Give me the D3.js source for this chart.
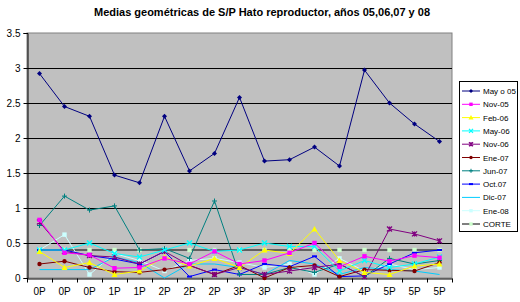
<!DOCTYPE html>
<html>
<head>
<meta charset="utf-8">
<script src="https://cdn.jsdelivr.net/npm/d3@7"></script>
<style>
  body { margin: 0; background: #fff; }
  text { font-family: "Liberation Sans", Arial, sans-serif; }
</style>
</head>
<body>
<div id="chart"></div>
<script>
'use strict';

// categories on the x axis
var categories = ['0P','0P','0P','1P','1P','2P','2P','2P','3P','3P','3P','4P','4P','4P','5P','5P','5P'];
var yTicks = [0, 0.5, 1, 1.5, 2, 2.5, 3, 3.5];

// series values
var mayo05 = [2.92,2.45,2.31,1.47,1.36,2.31,1.53,1.78,2.58,1.67,1.69,1.87,1.6,2.97,2.5,2.2,1.95];
var nov05  = [0.83,0.36,0.33,0.14,0.15,0.28,0.2,0.38,0.2,0.25,0.36,0.5,0.16,0.31,0.24,0.32,0.29];
var feb06  = [0.38,0.15,0.22,0.05,0.1,0.3,0.17,0.28,0.15,0.4,0.35,0.7,0.25,0.08,0.05,0.17,0.2];
var may06  = [0.4,0.4,0.5,0.35,0.3,0.4,0.5,0.38,0.4,0.5,0.45,0.45,0.1,0.25,0.15,0.2,0.3];
var nov06  = [0.8,0.38,0.32,0.3,0.2,0.38,0.18,0.05,0.15,0.05,0.1,0.15,0.2,0.02,0.7,0.63,0.53];
var ene07  = [0.2,0.24,0.15,0.09,0.08,0.12,0.18,0.05,0.18,0.0,0.15,0.18,0.02,0.12,0.11,0.1,0.22];
var jun07  = [0.75,1.17,0.97,1.03,0.4,0.42,0.28,1.1,0.05,0.05,0.15,0.08,0.2,0.02,0.28,0.2,0.25];
var oct07  = [0.4,0.4,0.32,0.27,0.2,0.38,0.02,0.12,0.05,0.2,0.16,0.31,0.02,0.03,0.2,0.36,0.4];
var dic07  = [0.12,0.12,0.12,0.3,0.22,0.0,0.2,0.2,0.15,0.05,0.25,0.2,0.05,0.15,0.12,0.1,0.05];
var ene08  = [0.4,0.62,0.05,0.35,0.25,0.1,0.25,0.28,0.22,0.15,0.2,0.05,0.28,0.1,0.2,0.12,0.15];
var corte  = [0.4,0.4,0.4,0.4,0.4,0.4,0.4,0.4,0.4,0.4,0.4,0.4,0.4,0.4,0.4,0.4,0.4];

var seriesNames = ['May o 05','Nov-05','Feb-06','May-06','Nov-06','Ene-07','Jun-07','Oct.07','Dic-07','Ene-08','CORTE'];
var seriesValues = [mayo05, nov05, feb06, may06, nov06, ene07, jun07, oct07, dic07, ene08, corte];

// styling per series
var lineColors = ['#000080','#FF00FF','#FFFF00','#00FFFF','#800080','#800000','#008080','#0000FF','#00CCFF','#CCFFFF','#000000'];
var markColors = ['#000080','#FF00FF','#FFFF00','#00FFFF','#800080','#800000','#008080','#0000FF',null,'#CCFFFF','#CCFFCC'];
var markTypes  = ['diamond','square','triangle','cross','star','circle','plus','dash','none','square','square'];

var W = 520, H = 302;
var plot = {left: 27, right: 452, top: 33, bottom: 278};

var svg = d3.select('#chart').append('svg')
    .attr('width', W).attr('height', H);

var x = d3.scaleBand()
    .domain(d3.range(categories.length))
    .range([plot.left, plot.right]);
var y = d3.scaleLinear()
    .domain([0, 3.5])
    .range([plot.bottom, plot.top]);

// plot area
svg.append('rect')
    .attr('x', plot.left).attr('y', plot.top)
    .attr('width', plot.right - plot.left).attr('height', plot.bottom - plot.top)
    .attr('fill', '#C0C0C0').attr('stroke', '#808080').attr('stroke-width', 1);

// gridlines
svg.append('g').selectAll('line')
    .data(yTicks.filter(function(d){ return d > 0 && d < 3.5; }))
  .enter().append('line')
    .attr('x1', plot.left).attr('x2', plot.right)
    .attr('y1', function(d){ return Math.round(y(d)) + 0.5; })
    .attr('y2', function(d){ return Math.round(y(d)) + 0.5; })
    .attr('stroke', '#000').attr('stroke-width', 1);

// y axis
var yAxis = svg.append('g')
    .attr('transform', 'translate(' + (plot.left + 0.5) + ',0)')
    .call(d3.axisLeft(y).tickValues(yTicks).tickSize(4).tickPadding(3)
        .tickFormat(function(d){ return String(d); }));
yAxis.select('.domain').attr('stroke', '#000');
yAxis.selectAll('text').attr('font-size', '10px').attr('fill', '#000')
    .style('font-family', '"Liberation Sans", Arial, sans-serif');

// x axis
var xAxis = svg.append('g')
    .attr('transform', 'translate(0,' + (plot.bottom + 0.5) + ')')
    .call(d3.axisBottom(x).tickSize(0).tickPadding(9)
        .tickFormat(function(d){ return categories[d]; }));
xAxis.select('.domain').attr('stroke', '#000');
xAxis.selectAll('text').attr('font-size', '10px').attr('fill', '#000')
    .style('font-family', '"Liberation Sans", Arial, sans-serif');
// category tick marks between bands
xAxis.selectAll('.sep')
    .data(d3.range(categories.length + 1))
  .enter().append('line')
    .attr('class', 'sep')
    .attr('x1', function(d){ return Math.round(plot.left + d * x.step()) + 0.5; })
    .attr('x2', function(d){ return Math.round(plot.left + d * x.step()) + 0.5; })
    .attr('y1', 0).attr('y2', 4)
    .attr('stroke', '#000');

function marker(g, type, fill, cx, cy, k) {
  k = k || 1;
  var r = 2.5 * k;
  if (type === 'none') return;
  if (type === 'diamond') {
    g.append('path').attr('d', 'M' + cx + ',' + (cy - r) + 'L' + (cx + r) + ',' + cy + 'L' + cx + ',' + (cy + r) + 'L' + (cx - r) + ',' + cy + 'Z')
      .attr('fill', fill);
  } else if (type === 'square') {
    g.append('rect').attr('x', cx - r + 0.3).attr('y', cy - r + 0.3).attr('width', 2 * r - 0.6).attr('height', 2 * r - 0.6)
      .attr('fill', fill);
  } else if (type === 'triangle') {
    g.append('path').attr('d', 'M' + cx + ',' + (cy - r - 0.5) + 'L' + (cx + r + 0.5) + ',' + (cy + r) + 'L' + (cx - r - 0.5) + ',' + (cy + r) + 'Z')
      .attr('fill', fill);
  } else if (type === 'cross') {
    g.append('path').attr('d', 'M' + (cx - r) + ',' + (cy - r) + 'L' + (cx + r) + ',' + (cy + r) + 'M' + (cx + r) + ',' + (cy - r) + 'L' + (cx - r) + ',' + (cy + r))
      .attr('stroke', fill).attr('stroke-width', 1.3);
  } else if (type === 'star') {
    g.append('path').attr('d', 'M' + (cx - r) + ',' + (cy - r) + 'L' + (cx + r) + ',' + (cy + r) + 'M' + (cx + r) + ',' + (cy - r) + 'L' + (cx - r) + ',' + (cy + r) + 'M' + cx + ',' + (cy - r) + 'L' + cx + ',' + (cy + r))
      .attr('stroke', fill).attr('stroke-width', 1.3);
  } else if (type === 'circle') {
    g.append('circle').attr('cx', cx).attr('cy', cy).attr('r', r - 0.3).attr('fill', fill);
  } else if (type === 'plus') {
    g.append('path').attr('d', 'M' + (cx - r) + ',' + cy + 'L' + (cx + r) + ',' + cy + 'M' + cx + ',' + (cy - r) + 'L' + cx + ',' + (cy + r))
      .attr('stroke', fill).attr('stroke-width', 1);
  } else if (type === 'dash') {
    g.append('path').attr('d', 'M' + (cx - r) + ',' + cy + 'L' + (cx + r) + ',' + cy)
      .attr('stroke', fill).attr('stroke-width', 2);
  }
}

var line = d3.line()
    .x(function(d, i){ return x(i) + x.bandwidth() / 2; })
    .y(function(d){ return y(d); });

// draw series, last legend entry first so Mayo 05 ends on top
var order = [10, 9, 8, 7, 6, 5, 4, 3, 2, 1, 0];
order.forEach(function(s) {
  var g = svg.append('g');
  g.append('path')
    .datum(seriesValues[s])
    .attr('d', line)
    .attr('fill', 'none')
    .attr('stroke', lineColors[s])
    .attr('stroke-width', 1);
  seriesValues[s].forEach(function(v, i) {
    marker(g, markTypes[s], markColors[s], x(i) + x.bandwidth() / 2, y(v), 1);
  });
});

// title
svg.append('text')
    .attr('x', 262).attr('y', 16)
    .attr('text-anchor', 'middle')
    .attr('font-size', '11px').attr('font-weight', 'bold')
    .text('Medias geométricas de S/P Hato reproductor, años 05,06,07 y 08');

// legend
var lg = svg.append('g');
lg.append('rect')
    .attr('x', 459.5).attr('y', 81.5).attr('width', 58).attr('height', 150)
    .attr('fill', '#fff').attr('stroke', '#000');
seriesNames.forEach(function(name, i) {
  var ly = 91 + i * 13.3;
  lg.append('line')
    .attr('x1', 462).attr('x2', 480).attr('y1', ly).attr('y2', ly)
    .attr('stroke', lineColors[i]).attr('stroke-width', 1);
  marker(lg, markTypes[i], markColors[i], 471, ly, 0.8);
  lg.append('text')
    .attr('x', 483).attr('y', ly + 3)
    .attr('font-size', '8px')
    .text(name);
});
</script>
</body>
</html>
